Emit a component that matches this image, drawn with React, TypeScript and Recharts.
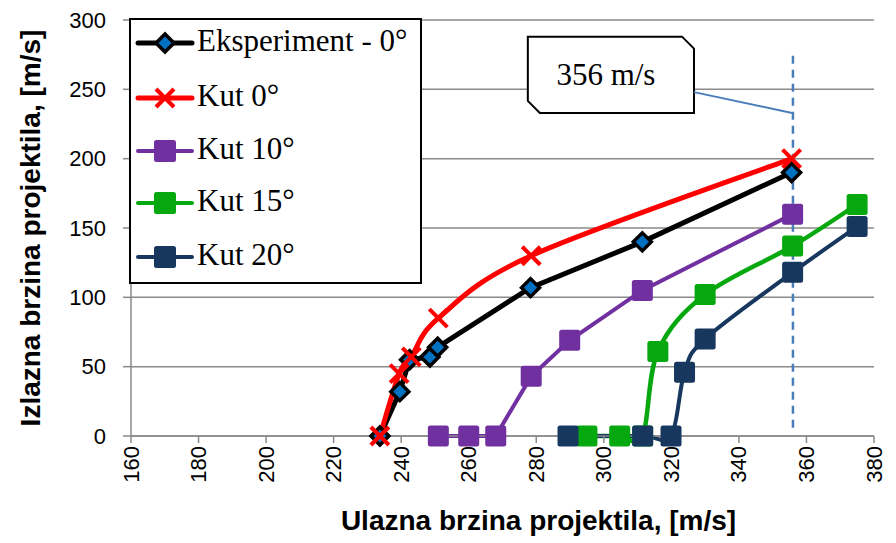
import React from 'react';
import { LineChart, Line, XAxis, YAxis, CartesianGrid, Legend, ReferenceLine, ReferenceArea } from 'recharts';

const xTicks = [160, 180, 200, 220, 240, 260, 280, 300, 320, 340, 360, 380];
const yTicks = [0, 50, 100, 150, 200, 250, 300];

const expX = [233.7, 239.6, 242.5, 248.5, 250.8, 278.3, 311.4, 355.6];
const expY = [0, 32, 55, 57, 64, 107, 140, 190];
const kut0X = [233.7, 239.4, 243, 251, 278.5, 355.6];
const kut0Y = [0, 45, 57, 85, 130, 200];
const kut10X = [251, 260, 268, 278.5, 289.9, 311.4, 355.9];
const kut10Y = [0, 0, 0, 43, 69, 105, 160];
const kut15X = [295, 304.7, 311.5, 316, 330, 355.9, 375];
const kut15Y = [0, 0, 0, 61, 102, 137, 167];
const kut20X = [289.4, 311.5, 319.9, 323.9, 330, 355.9, 375];
const kut20Y = [0, 0, 0, 46, 70, 118, 151];

const markX = 356;
const markRange = [6, 276];
const calloutX = [277.5, 326.7];
const calloutY = [233, 288];
const connector = [
  { x: 326.7, y: 248 },
  { x: 355.7, y: 233 },
];

const zip = (xs: number[], ys: number[]) => xs.map((x, i) => ({ x, y: ys[i] }));

const expData = zip(expX, expY);
const kut0Data = zip(kut0X, kut0Y);
const kut10Data = zip(kut10X, kut10Y);
const kut15Data = zip(kut15X, kut15Y);
const kut20Data = zip(kut20X, kut20Y);

const C_EXP = '#000000';
const C_EXP_FILL = '#0070c0';
const C_K0 = '#ff0000';
const C_K10 = '#7030a0';
const C_K15 = '#05a80e';
const C_K20 = '#17375e';
const GRID = '#8a8a8a';
const SANS = '"Liberation Sans", Arial, sans-serif';
const SERIF = '"Liberation Serif", "Times New Roman", serif';

// Catmull-Rom style smoothing (like spreadsheet "smoothed line"), as a curve factory
const smoothCurve = (context: any) => {
  let pts: number[][] = [];
  return {
    areaStart() {},
    areaEnd() {},
    lineStart() {
      pts = [];
    },
    lineEnd() {
      const n = pts.length;
      if (n === 0) return;
      context.moveTo(pts[0][0], pts[0][1]);
      for (let i = 0; i < n - 1; i++) {
        const p0 = pts[i - 1] || pts[i];
        const p1 = pts[i];
        const p2 = pts[i + 1];
        const p3 = pts[i + 2] || p2;
        const c1x = p1[0] + (p2[0] - p0[0]) / 6;
        const c1y = p1[1] + (p2[1] - p0[1]) / 6;
        const c2x = p2[0] - (p3[0] - p1[0]) / 6;
        const c2y = p2[1] - (p3[1] - p1[1]) / 6;
        context.bezierCurveTo(c1x, c1y, c2x, c2y, p2[0], p2[1]);
      }
    },
    point(x: number, y: number) {
      pts.push([+x, +y]);
    },
  };
};

const diamond = (cx: number, cy: number, key?: any) => (
  <polygon
    key={key}
    points={`${cx},${cy - 9} ${cx + 9},${cy} ${cx},${cy + 9} ${cx - 9},${cy}`}
    fill={C_EXP_FILL}
    stroke="#000"
    strokeWidth={3.5}
    strokeLinejoin="miter"
  />
);
const cross = (cx: number, cy: number, key?: any) => (
  <g key={key}>
    <line x1={cx - 9} y1={cy - 9} x2={cx + 9} y2={cy + 9} stroke={C_K0} strokeWidth={4} />
    <line x1={cx - 9} y1={cy + 9} x2={cx + 9} y2={cy - 9} stroke={C_K0} strokeWidth={4} />
  </g>
);
const square = (cx: number, cy: number, color: string, key?: any, s = 21) => (
  <rect key={key} x={cx - s / 2} y={cy - s / 2} width={s} height={s} rx={2.5} fill={color} />
);

const expDot = (p: any) => diamond(p.cx, p.cy, `e${p.index}`);
const k0Dot = (p: any) => cross(p.cx, p.cy, `k0${p.index}`);
const k10Dot = (p: any) => square(p.cx, p.cy, C_K10, `k10${p.index}`);
const k15Dot = (p: any) => square(p.cx, p.cy, C_K15, `k15${p.index}`);
const k20Dot = (p: any) => square(p.cx, p.cy, C_K20, `k20${p.index}`);

const legendItems = [
  { name: 'Eksperiment - 0°', color: C_EXP, kind: 'diamond', w: 5 },
  { name: 'Kut 0°', color: C_K0, kind: 'cross', w: 5 },
  { name: 'Kut 10°', color: C_K10, kind: 'square', w: 4 },
  { name: 'Kut 15°', color: C_K15, kind: 'square', w: 4 },
  { name: 'Kut 20°', color: C_K20, kind: 'square', w: 4 },
];
const legendRowCenters = [25, 80, 133, 185, 239];

const renderLegend = () => (
  <div
    style={{
      position: 'relative',
      width: 293,
      height: 266,
      boxSizing: 'border-box',
      border: '2px solid #000',
      background: '#fff',
    }}
  >
    {legendItems.map((it, i) => (
      <div
        key={it.name}
        style={{
          position: 'absolute',
          left: 0,
          top: legendRowCenters[i] - 2 - 20,
          height: 40,
          display: 'flex',
          alignItems: 'center',
          whiteSpace: 'nowrap',
        }}
      >
        <svg width={66} height={40} style={{ display: 'block' }}>
          <line x1={7} y1={20} x2={61} y2={20} stroke={it.color} strokeWidth={it.w} strokeLinecap="round" />
          {it.kind === 'diamond' && diamond(34, 20)}
          {it.kind === 'cross' && cross(34, 20)}
          {it.kind === 'square' && square(34, 20, it.color, undefined, 22)}
        </svg>
        <span style={{ fontFamily: SERIF, fontSize: 31, color: '#000', lineHeight: '40px', marginTop: -4 }}>
          {it.name}
        </span>
      </div>
    ))}
  </div>
);

const XTick = (props: any) => {
  const { x, y, payload } = props;
  return (
    <text
      x={x}
      y={y}
      transform={`rotate(-90 ${x} ${y})`}
      textAnchor="end"
      dominantBaseline="central"
      fontFamily={SANS}
      fontSize={22}
      fill="#000"
    >
      {payload.value}
    </text>
  );
};

const YTick = (props: any) => {
  const { x, y, payload } = props;
  return (
    <text x={x} y={y} textAnchor="end" dominantBaseline="central" fontFamily={SANS} fontSize={22} fill="#000">
      {payload.value}
    </text>
  );
};

const YTitle = (props: any) => {
  const vb = props.viewBox;
  const cx = 30;
  const cy = vb.y + vb.height / 2;
  return (
    <text
      x={cx}
      y={cy}
      transform={`rotate(-90 ${cx} ${cy})`}
      textAnchor="middle"
      dominantBaseline="central"
      fontFamily={SANS}
      fontWeight="bold"
      fontSize={28}
      fill="#000"
    >
      Izlazna brzina projektila, [m/s]
    </text>
  );
};

const XTitle = (props: any) => {
  const vb = props.viewBox;
  return (
    <text
      x={vb.x + vb.width / 2 + 36}
      y={vb.y + 94}
      textAnchor="middle"
      fontFamily={SANS}
      fontWeight="bold"
      fontSize={28}
      fill="#000"
    >
      Ulazna brzina projektila, [m/s]
    </text>
  );
};

const Callout = (props: any) => {
  const { x, y, width, height } = props;
  const b = 12;
  const pts = `${x},${y} ${x + width - b},${y} ${x + width},${y + b} ${x + width},${y + height} ${x + b},${y + height} ${x},${y + height - b}`;
  return (
    <g>
      <polygon points={pts} fill="#fff" stroke="#000" strokeWidth={2} />
      <text
        x={x + width / 2 - 5}
        y={y + height / 2}
        textAnchor="middle"
        dominantBaseline="central"
        fontFamily={SERIF}
        fontSize={31}
        fill="#000"
      >
        {`${markX} m/s`}
      </text>
    </g>
  );
};

export default function App() {
  return (
    <div style={{ position: 'absolute', left: 0, top: 0, background: '#fff' }}>
      <LineChart width={896} height={543} margin={{ top: 20, right: 22, bottom: 0, left: 0 }}>
        <CartesianGrid vertical={false} stroke={GRID} strokeWidth={1.5} />
        <XAxis
          type="number"
          dataKey="x"
          domain={[160, 380]}
          ticks={xTicks}
          interval={0}
          height={107}
          tickSize={7}
          tickMargin={3}
          tick={<XTick />}
          axisLine={{ stroke: GRID, strokeWidth: 1.5 }}
          tickLine={{ stroke: GRID, strokeWidth: 1.5 }}
          allowDataOverflow
          label={<XTitle />}
        />
        <YAxis
          type="number"
          dataKey="y"
          domain={[0, 300]}
          ticks={yTicks}
          interval={0}
          width={131}
          tickSize={8}
          tickMargin={17}
          tick={<YTick />}
          axisLine={{ stroke: GRID, strokeWidth: 1.5 }}
          tickLine={{ stroke: GRID, strokeWidth: 1.5 }}
          label={<YTitle />}
        />
        <ReferenceLine
          segment={[
            { x: markX, y: markRange[0] },
            { x: markX, y: markRange[1] },
          ]}
          stroke="#4a7ebb"
          strokeWidth={2.5}
          strokeDasharray="8 6"
        />
        <ReferenceLine segment={connector} stroke="#4a7ebb" strokeWidth={2} />
        <ReferenceArea x1={calloutX[0]} x2={calloutX[1]} y1={calloutY[0]} y2={calloutY[1]} shape={<Callout />} />
        <Line data={expData} dataKey="y" type="linear" stroke={C_EXP} strokeWidth={5} dot={expDot} activeDot={false} isAnimationActive={false} />
        <Line data={kut0Data} dataKey="y" type={smoothCurve as any} stroke={C_K0} strokeWidth={5} dot={k0Dot} activeDot={false} isAnimationActive={false} />
        <Line data={kut10Data} dataKey="y" type="linear" stroke={C_K10} strokeWidth={4} dot={k10Dot} activeDot={false} isAnimationActive={false} />
        <Line data={kut15Data} dataKey="y" type={smoothCurve as any} stroke={C_K15} strokeWidth={4.5} dot={k15Dot} activeDot={false} isAnimationActive={false} />
        <Line data={kut20Data} dataKey="y" type={smoothCurve as any} stroke={C_K20} strokeWidth={4} dot={k20Dot} activeDot={false} isAnimationActive={false} />
        <Legend
          layout="vertical"
          align="center"
          verticalAlign="middle"
          content={renderLegend}
          wrapperStyle={{ left: 129, top: 18, width: 293, height: 266 }}
        />
      </LineChart>
    </div>
  );
}
